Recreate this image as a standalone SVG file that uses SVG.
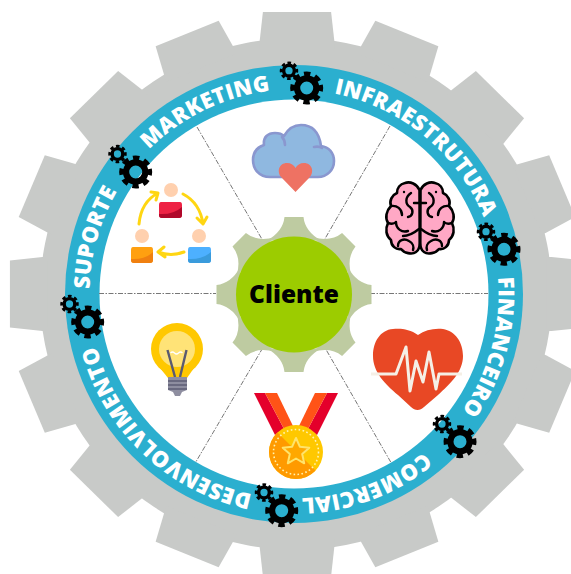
<svg xmlns="http://www.w3.org/2000/svg" width="571" height="574" viewBox="0 0 571 574">
<style>
.t{font-family:"Open Sans","Liberation Sans",sans-serif;font-weight:800;font-size:22px;fill:#fff;letter-spacing:0.3px;text-anchor:middle}
.d{fill:none;stroke:#777;stroke-width:1;stroke-dasharray:5 1.5 1.5 1.5}
.gr{fill:none;stroke:#000;stroke-width:6.2}
.gt{fill:none;stroke:#000;stroke-width:5;stroke-dasharray:6.2 4.8}
.fold{fill:none;stroke:#000;stroke-width:2.4;stroke-linecap:round;stroke-linejoin:round}
.ar{fill:none;stroke:#FFD612;stroke-width:3;stroke-linecap:round;stroke-linejoin:round}
.skin{fill:#FFD0AE}
</style>
<defs>
<polygon id="tooth" points="-37,-245 -37,-250 -33.5,-282 33.5,-282 37,-250 37,-245"/>
<path id="ct" d="M-9.5,-77.5 L9.5,-77.5 Q11,-63 27,-54 L-27,-54 Q-11,-63 -9.5,-77.5Z"/>
<g id="cog"><circle class="gr" r="9.6"/><circle class="gt" r="14" transform="rotate(-12.6)"/></g>
<path id="ringpath" d="M294,89.5 A204.5,204.5 0 1 1 294,498.5 A204.5,204.5 0 1 1 294,89.5"/>
<g id="brainhalf">
<path d="M419.5 190 C417 184 410 181 405 183 C400 184 397 188 397 193 C392 195 389 201 391 206 C386 211 385 218 388 223 C385 229 386 236 391 240 C391 246 396 250 401 249 C404 253 412 255 416 252 C419 250 419.7 247 419.7 243 Z" fill="#FFA8C5" stroke="#000" stroke-width="2.6" stroke-linejoin="round"/>
<path class="fold" d="M391 206 C397 205 402 209 402 215 M411 193 C405 197 405 204 410 207 C414 210 413 216 408 217 M396 222 C396 229 402 233 408 231 M388 223 C391 224 394 224 396 222 M419 229 C414 233 408 236 403 236 M398 246 C398 240 404 238 409 241 C413 243 414 247 413 250 M420 203 H414"/>
<circle cx="404" cy="192" r="1.2"/>
</g>
<clipPath id="mc"><circle cx="296" cy="452" r="27"/></clipPath>
</defs>
<rect width="571" height="574" fill="#fff"/>
<g id="outer-gear" fill="#C8CAC8">
<circle cx="296" cy="294" r="256"/>
<g transform="translate(297,294) scale(1.018,1)">
<use href="#tooth"/><use href="#tooth" transform="rotate(22.5)"/><use href="#tooth" transform="rotate(45)"/><use href="#tooth" transform="rotate(67.5)"/><use href="#tooth" transform="rotate(90)"/><use href="#tooth" transform="rotate(112.5)"/><use href="#tooth" transform="rotate(135)"/><use href="#tooth" transform="rotate(157.5)"/><use href="#tooth" transform="rotate(180)"/><use href="#tooth" transform="rotate(202.5)"/><use href="#tooth" transform="rotate(225)"/><use href="#tooth" transform="rotate(247.5)"/><use href="#tooth" transform="rotate(270)"/><use href="#tooth" transform="rotate(292.5)"/><use href="#tooth" transform="rotate(315)"/><use href="#tooth" transform="rotate(337.5)"/>
</g>
</g>
<g id="ring">
<circle cx="294" cy="294" r="229" fill="#2BAFCF"/>
<circle cx="294" cy="294" r="194.5" fill="#fff"/>
</g>
<g id="connectors">
<path class="d" d="M99,293.5 H216 M370,293.5 H488 M197,127 L264,242.7 M390,126 L322.7,242.7 M326.7,350.7 L390.7,462 M262.7,348 L196,461.7"/>
</g>
<g id="labels">
<text class="t"><textPath href="#ringpath" startOffset="92.8%">MARKETING</textPath></text>
<text class="t"><textPath href="#ringpath" startOffset="11.03%">INFRAESTRUTURA</textPath></text>
<text class="t"><textPath href="#ringpath" startOffset="29.2%">FINANCEIRO</textPath></text>
<text class="t"><textPath href="#ringpath" startOffset="44.25%">COMERCIAL</textPath></text>
<text class="t"><textPath href="#ringpath" startOffset="62.1%">DESENVOLVIMENTO</textPath></text>
<text class="t"><textPath href="#ringpath" startOffset="79.4%">SUPORTE</textPath></text>
</g>
<g id="center-gear">
<g transform="translate(294,294.5)" fill="#BECBA1">
<use href="#ct"/><use href="#ct" transform="rotate(45)"/><use href="#ct" transform="rotate(90)"/><use href="#ct" transform="rotate(135)"/><use href="#ct" transform="rotate(180)"/><use href="#ct" transform="rotate(225)"/><use href="#ct" transform="rotate(270)"/><use href="#ct" transform="rotate(315)"/>
</g>
<circle cx="294" cy="294.5" r="58" fill="#9CCC00"/>
<text x="294" y="303" font-family="'Open Sans','Liberation Sans',sans-serif" font-weight="800" font-size="24.5" text-anchor="middle">Cliente</text>
</g>
<g id="cogs">
<g id="cog-1"><use href="#cog" transform="translate(306.7,88)"/><use href="#cog" transform="translate(289,70.7) scale(.56)"/></g>
<g id="cog-2"><use href="#cog" transform="translate(504,249.3)"/><use href="#cog" transform="translate(486,231.7) scale(.56)"/></g>
<g id="cog-3"><use href="#cog" transform="translate(460,441.7)"/><use href="#cog" transform="translate(442,424) scale(.56)"/></g>
<g id="cog-4"><use href="#cog" transform="translate(281.7,510.7)"/><use href="#cog" transform="translate(264,492.5) scale(.56)"/></g>
<g id="cog-5"><use href="#cog" transform="translate(87.7,322)"/><use href="#cog" transform="translate(69.5,304) scale(.56)"/></g>
<g id="cog-6"><use href="#cog" transform="translate(135.7,172)"/><use href="#cog" transform="translate(117.5,154) scale(.56)"/></g>
</g>
<g id="icon-cloud">
<path d="M270 177 C259 177 253 169 253 160 C253 152 258 147 264 145 C263 137 268 133 275 133 C279 133 282 134 284 136 C288 129 294 125 301 125 C311 125 319 131 321 146 C329 147 334 153 334 161 C334 170 327 177 318 177 Z" fill="#8FB8E0" stroke="#8A97CF" stroke-width="2.6" stroke-linejoin="round"/>
<path d="M282 137 Q285 140 285 145 M314 147 Q319 146 322 148" fill="none" stroke="#8A97CF" stroke-width="2.6" stroke-linecap="round"/>
<path d="M295.5 192 L282 178 C276 172 279 163 287 163 C291 163 294 165 295.5 168 C297 165 300 163 304 163 C312 163 315 172 309 178 Z" fill="#EE7263"/>
</g>
<g id="icon-brain">
<use href="#brainhalf"/><use href="#brainhalf" transform="translate(840,0) scale(-1,1)"/>
</g>
<g id="icon-heart">
<path d="M418 335 C410 329 400 328 393 329 C380 330 373 342 373 356 C373 372 385 384 398 395 L411 407 C415 411 420 411 424 407 L438 395 C450 384 463 372 463 356 C463 342 455 331 443 329 C434 328 425 330 418 335Z" fill="#E84825"/>
<path d="M371 374 H396 L406 347 L410 391 L416 361 L423 382 L429 352 L436 389 L439 374 H462" fill="none" stroke="#F5EFE6" stroke-width="3" stroke-linejoin="round"/>
</g>
<g id="icon-medal">
<polygon points="254,393 265,393 284,429 275,435" fill="#E4002B"/>
<polygon points="265,393 277,393 293,426 284,429" fill="#FF5317"/>
<polygon points="338,393 327,393 308,429 317,435" fill="#E4002B"/>
<polygon points="327,393 315,393 299,426 308,429" fill="#FF5317"/>
<circle cx="296" cy="452" r="27" fill="#FFC800"/>
<polygon points="260,415 325,480 260,490" fill="#FF9A00" clip-path="url(#mc)"/>
<circle cx="296" cy="452" r="22.5" fill="none" stroke="#FFF3B0" stroke-width="1.6" stroke-dasharray="1.6 2.4"/>
<polygon points="296,438 299.8,446.7 309.3,447.7 302.2,454 304.2,463.3 296,458.5 287.8,463.3 289.8,454 282.7,447.7 292.2,446.7" fill="#FFA800" stroke="#FFE36B" stroke-width="2" stroke-linejoin="round"/>
</g>
<g id="icon-bulb">
<polygon points="160,368 194,368 187,378 168,378" fill="#FFC800"/>
<circle cx="177" cy="349" r="26" fill="#FFC800"/>
<circle cx="177" cy="349" r="18" fill="#FFE377"/>
<path d="M167.5 350 L175 377 M186.5 350 L180 377" stroke="#5A5A70" stroke-width="2.4" fill="none"/>
<path d="M170.5 353 q2 -2 4 0 t4 0 t4 0" stroke="#fff" stroke-width="1.2" fill="none"/>
<path d="M168 377 H187 V390 L182 392 L180 396 H175 L173 392 L168 390Z" fill="#8E8EA0"/>
<path d="M168 381 H187 M168 385 H187 M168 389 H187" stroke="#5E5E74" stroke-width="1.4"/>
</g>
<g id="icon-people">
<circle class="skin" cx="171" cy="190" r="7"/>
<path d="M161 202 H180 Q182 202 182 205 V215 Q182 218 179 218 H162 Q159 218 159 215 V205 Q159 202 161 202Z" fill="#EE2244"/>
<path d="M182 207 V215 Q182 218 179 218 H162 Q159 218 159 215 V214 Q173 215 182 207Z" fill="#B0082A"/>
<circle class="skin" cx="199" cy="236" r="7"/>
<path d="M190 247 H209 Q211 247 211 250 V260 Q211 263 208 263 H191 Q188 263 188 260 V250 Q188 247 190 247Z" fill="#4DB0FF"/>
<path d="M211 252 V260 Q211 263 208 263 H191 Q188 263 188 260 V259 Q202 260 211 252Z" fill="#3A9BDC"/>
<circle class="skin" cx="142" cy="236" r="7"/>
<path d="M133 247 H151 Q153 247 153 250 V260 Q153 263 150 263 H134 Q131 263 131 260 V250 Q131 247 133 247Z" fill="#FFA010"/>
<path d="M153 252 V260 Q153 263 150 263 H134 Q131 263 131 260 V259 Q145 260 153 252Z" fill="#F08010"/>
<path class="ar" d="M139 224 Q141 202 158 193 M151 192 L158 193 L156 200"/>
<path class="ar" d="M183 194 Q200 203 203 224 M197 218 L203 224 L207 217"/>
<path class="ar" d="M184 252 Q171 257 158 252 M164 247 L158 252 L165 257"/>
</g>
</svg>
